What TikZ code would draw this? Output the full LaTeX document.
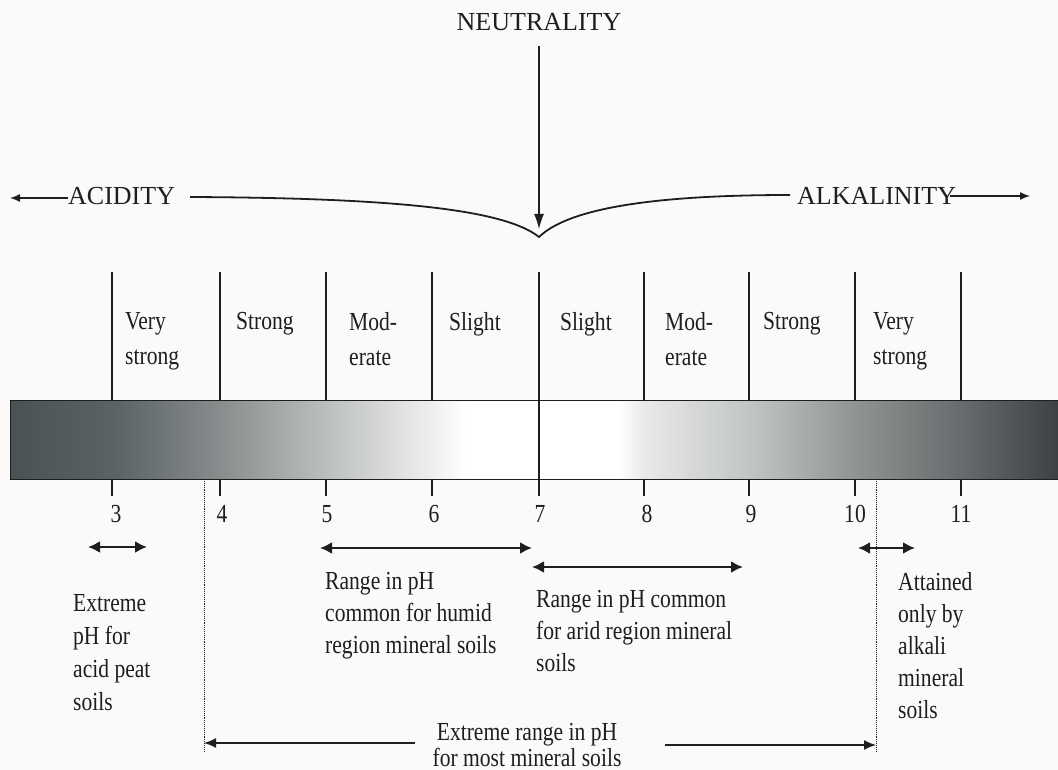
\documentclass[tikz,border=0pt]{standalone}
\usepackage{fontspec}
\setmainfont{Liberation Serif}
\newfontfamily\lblfont[FakeStretch=0.83]{Liberation Serif}
\usetikzlibrary{arrows.meta}
\definecolor{bg}{HTML}{FCFAF8}
\definecolor{ink}{HTML}{1E1E1E}
\definecolor{c0}{HTML}{4A5254}
\definecolor{c1}{HTML}{5A6264}
\definecolor{c2}{HTML}{888D8E}
\definecolor{c3}{HTML}{BCBFBF}
\definecolor{c4}{HTML}{EFEFEF}
\definecolor{c5}{HTML}{FFFFFF}
\definecolor{c6}{HTML}{E8E9E9}
\definecolor{c7}{HTML}{C2C5C5}
\definecolor{c8}{HTML}{8E9393}
\definecolor{c9}{HTML}{666C6D}
\definecolor{c10}{HTML}{3C4243}
\pgfdeclarehorizontalshading{phbar}{100bp}{color(0bp)=(c0); color(25bp)=(c0); color(29.87bp)=(c1); color(35.02bp)=(c2); color(40.08bp)=(c3); color(45.13bp)=(c4); color(46.8bp)=(c5); color(54bp)=(c5); color(55.25bp)=(c6); color(60.26bp)=(c7); color(65.32bp)=(c8); color(70.37bp)=(c9); color(75bp)=(c10); color(100bp)=(c10)}
\begin{document}
\begin{tikzpicture}[x=1pt,y=-1pt,
  lbl/.style={font=\lblfont\fontsize{26}{33}\selectfont, inner sep=0pt, align=left, anchor=north west, text=ink},
  captxt/.style={font=\fontsize{26}{30}\selectfont, inner sep=0pt, anchor=north west, text=ink},
  num/.style={font=\lblfont\fontsize{26}{30}\selectfont, inner sep=0pt, anchor=north, text=ink},
  tick/.style={draw=ink, line width=1.3pt},
  dbl/.style={draw=ink, line width=2.2pt, {Latex[length=12pt,width=12pt]}-{Latex[length=12pt,width=12pt]}},
  sgl/.style={draw=ink, line width=1.6pt, -{Latex[length=12pt,width=10pt]}},
  dots/.style={draw=ink, line width=0.9pt, densely dotted}]
\path[fill=bg, use as bounding box] (0,0) rectangle (1058,770);

% top labels
\node[captxt, anchor=north] (neut) at (539,13) {NEUTRALITY};
\node[captxt] (acid) at (68,187) {ACIDITY};
\node[captxt] (alk) at (797,187) {ALKALINITY};
\coordinate (accEnd) at (10,198);
\coordinate (alkEnd) at (1030,196);
\coordinate (braceL) at (190,197);
\coordinate (cusp) at (539,237);
\coordinate (braceR) at (790,195);
\coordinate (neutTip) at (539,229);
\draw[draw=ink, line width=1.3pt, -{Latex[length=15pt,width=10pt]}] (neut.south |- 0,46) -- (neutTip);
\draw[draw=ink, line width=1.4pt, -{Latex[length=10pt,width=8pt]}] (acid.west |- accEnd) -- (accEnd);
\draw[draw=ink, line width=1.4pt, -{Latex[length=10pt,width=8pt]}] (950,196) -- (alkEnd);
\draw[draw=ink, line width=1.8pt] (braceL) .. controls (400,198) and (505,210) .. (cusp)
  .. controls (570,207) and (660,195) .. (braceR);

% bar
\node[draw=ink, line width=1.4pt, shading=phbar, minimum width=1048pt, minimum height=79pt, inner sep=0pt, anchor=north west] (bar) at (10,400) {};

% ticks
\foreach \n/\x in {3/112,4/220,5/326,6/432,8/644,9/749,10/855,11/961}{
  \draw[tick] (\x,272) -- (\x,400);
  \draw[tick] (\x,479) -- (\x,496);
}
\draw[tick] (539,272) -- (539,496);
\foreach \n/\x in {3/116,4/222,5/327,6/434,7/540,8/647,9/751,10/855,11/961}{
  \node[num] (n\n) at (\x,505) {\n};
}

% category labels
\node[lbl, font=\lblfont\fontsize{26}{35}\selectfont] (vs1) at (125,312) {Very\\strong};
\node[lbl] (st1) at (236,312) {Strong};
\node[lbl, font=\lblfont\fontsize{26}{35}\selectfont] (mo1) at (349,312) {Mod-\\erate};
\node[lbl] (sl1) at (449,312) {Slight};
\node[lbl] (sl2) at (560,312) {Slight};
\node[lbl, font=\lblfont\fontsize{26}{35}\selectfont] (mo2) at (665,312) {Mod-\\erate};
\node[lbl] (st2) at (763,312) {Strong};
\node[lbl, font=\lblfont\fontsize{26}{35}\selectfont] (vs2) at (873,312) {Very\\strong};

% dotted limits
\coordinate (dL1) at (204,479); \coordinate (dL2) at (204,752);
\coordinate (dR1) at (876,479); \coordinate (dR2) at (876,752);
\draw[dots] (dL1) -- (dL2);
\draw[dots] (dR1) -- (dR2);

% range arrows
\coordinate (a1) at (88,547); \coordinate (a2) at (147,547);
\coordinate (h1) at (320,548); \coordinate (h2) at (532,548);
\coordinate (r1) at (532,567); \coordinate (r2) at (743,567);
\coordinate (k1) at (858,548); \coordinate (k2) at (915,548);
\draw[dbl] (a1) -- (a2);
\draw[dbl] (h1) -- (h2);
\draw[dbl] (r1) -- (r2);
\draw[dbl] (k1) -- (k2);

% range labels
\node[lbl] (peat) at (73,594) {Extreme\\pH for\\acid peat\\soils};
\node[lbl, font=\lblfont\fontsize{26}{32}\selectfont] (humid) at (325,572) {Range in pH\\common for humid\\region mineral soils};
\node[lbl, font=\lblfont\fontsize{26}{32}\selectfont] (arid) at (536,590) {Range in pH common\\for arid region mineral\\soils};
\node[lbl, font=\lblfont\fontsize{26}{32}\selectfont] (alkali) at (898,572) {Attained\\only by\\alkali\\mineral\\soils};
\node[lbl, align=center, anchor=north, font=\lblfont\fontsize{26}{26}\selectfont] (extreme) at (527,723) {Extreme range in pH\\for most mineral soils};

\coordinate (eL) at (204,743); \coordinate (eR) at (876,745);
\draw[sgl] (415,743) -- (eL);
\draw[sgl] (665,745) -- (eR);
\end{tikzpicture}
\end{document}
